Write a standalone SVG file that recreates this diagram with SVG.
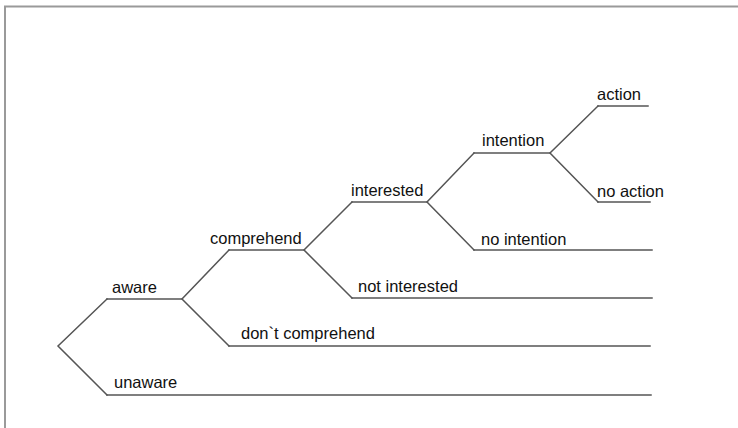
<svg xmlns="http://www.w3.org/2000/svg" width="738" height="428" viewBox="0 0 738 428">
  <style>
    .frame { fill: none; stroke: #9a9a9a; stroke-width: 2; }
    .branch { fill: none; stroke: #555555; stroke-width: 1.5; stroke-linecap: square; }
    .label { font-family: "Liberation Sans", Arial, Helvetica, sans-serif; font-size: 16.5px; fill: #111111; }
  </style>
  <rect width="738" height="428" fill="#ffffff"/>
  <!-- page frame: left and top edges -->
  <path class="frame" d="M5,428 V6.5 H738"/>

  <!-- diagonal splits between stages -->
  <g id="connectors">
    <path class="branch" d="M107,299 L58,346 L107,395"/>
    <path class="branch" d="M229,250 L182,299 L229,346"/>
    <path class="branch" d="M352,202 L304,250 L352,298"/>
    <path class="branch" d="M474,153 L427,202 L474,250"/>
    <path class="branch" d="M598,106 L550,153 L598,202"/>
  </g>

  <g id="aware">
    <path class="branch" d="M107,299 H182"/>
    <text class="label" x="112" y="293">aware</text>
  </g>
  <g id="unaware">
    <path class="branch" d="M107,395 H651"/>
    <text class="label" x="114" y="388">unaware</text>
  </g>
  <g id="comprehend">
    <path class="branch" d="M229,250 H304"/>
    <text class="label" x="210" y="244">comprehend</text>
  </g>
  <g id="dont-comprehend">
    <path class="branch" d="M229,346 H650"/>
    <text class="label" x="241" y="339">don`t comprehend</text>
  </g>
  <g id="interested">
    <path class="branch" d="M352,202 H427"/>
    <text class="label" x="351" y="196">interested</text>
  </g>
  <g id="not-interested">
    <path class="branch" d="M352,298 H652"/>
    <text class="label" x="358" y="292">not interested</text>
  </g>
  <g id="intention">
    <path class="branch" d="M474,153 H550"/>
    <text class="label" x="482" y="146">intention</text>
  </g>
  <g id="no-intention">
    <path class="branch" d="M474,250 H652"/>
    <text class="label" x="481" y="245">no intention</text>
  </g>
  <g id="action">
    <path class="branch" d="M598,106 H648"/>
    <text class="label" x="597" y="100">action</text>
  </g>
  <g id="no-action">
    <path class="branch" d="M598,202 H650"/>
    <text class="label" x="597" y="197">no action</text>
  </g>
</svg>
